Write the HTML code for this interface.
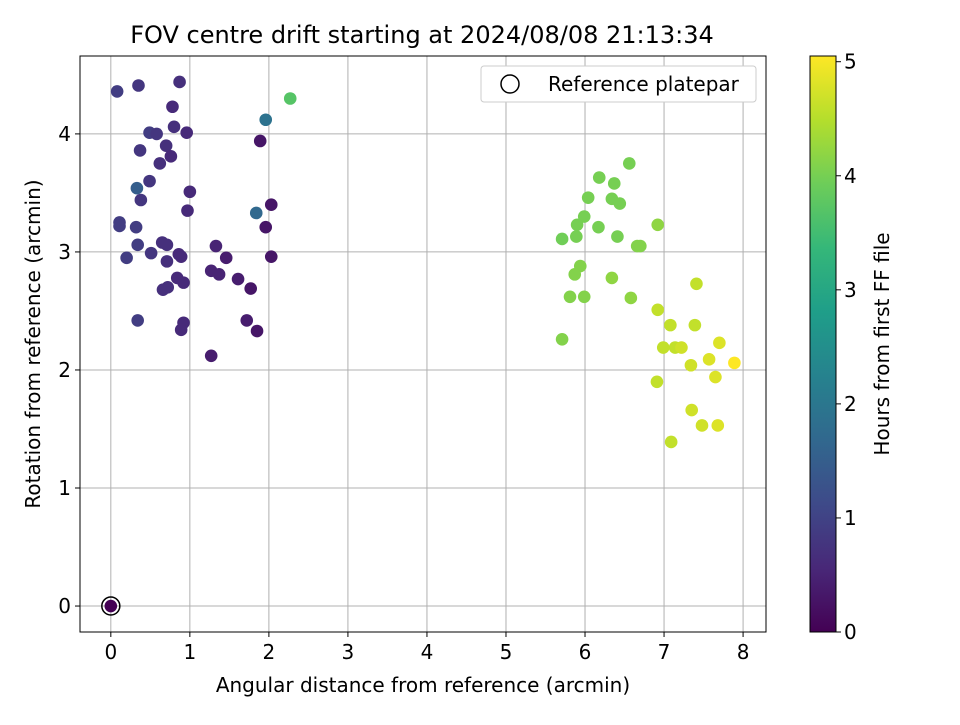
<!DOCTYPE html>
<html><head><meta charset="utf-8"><style>
body{margin:0;background:#fff;}
svg{font-family:"DejaVu Sans","Liberation Sans",sans-serif;}
</style></head><body>
<svg id="c" width="960" height="720" viewBox="0 0 960 720"></svg>
<script>
const xs=[0.08,0.35,0.87,0.78,2.27,1.96,0.80,0.49,0.58,0.96,0.37,0.70,0.62,0.76,1.89,0.33,0.49,1.0,0.38,0.97,1.84,2.03,0.11,0.11,0.32,1.96,0.34,0.65,0.71,1.33,0.51,0.86,0.89,0.2,1.46,2.03,0.71,1.27,1.37,0.84,0.92,1.61,0.72,0.66,1.77,0.34,0.92,1.72,0.89,1.85,1.27,0,
6.56,6.18,6.37,6.04,6.34,6.44,5.99,5.9,6.92,6.17,5.71,5.89,6.41,6.66,6.70,5.94,5.87,6.34,5.81,5.99,6.58,5.71,
7.41,6.92,7.08,7.39,7.70,6.99,7.14,7.22,7.57,7.34,7.89,7.65,6.91,7.35,7.48,7.68,7.09];
const ys=[4.36,4.41,4.44,4.23,4.30,4.12,4.06,4.01,4.0,4.01,3.86,3.9,3.75,3.81,3.94,3.54,3.60,3.51,3.44,3.35,3.33,3.40,3.25,3.22,3.21,3.21,3.06,3.08,3.06,3.05,2.99,2.98,2.96,2.95,2.95,2.96,2.92,2.84,2.81,2.78,2.74,2.77,2.70,2.68,2.69,2.42,2.4,2.42,2.34,2.33,2.12,0,
3.75,3.63,3.58,3.46,3.45,3.41,3.30,3.23,3.23,3.21,3.11,3.13,3.13,3.05,3.05,2.88,2.81,2.78,2.62,2.62,2.61,2.26,
2.73,2.51,2.38,2.38,2.23,2.19,2.19,2.19,2.09,2.04,2.06,1.94,1.9,1.66,1.53,1.53,1.39];
const hours=[0.9,0.8,0.7,0.6,3.7,1.9,0.7,0.9,0.8,0.6,0.8,0.7,0.7,0.6,0.3,1.5,0.8,0.6,0.8,0.6,1.7,0.3,0.9,0.9,0.9,0.3,0.9,0.7,0.7,0.5,0.8,0.6,0.6,0.9,0.4,0.3,0.7,0.5,0.5,0.6,0.6,0.4,0.7,0.7,0.3,0.9,0.6,0.4,0.6,0.3,0.4,0,
4.0,4.0,4.0,4.0,4.0,4.0,4.0,4.0,4.2,4.0,3.95,4.0,4.0,4.1,4.1,4.1,4.1,4.2,4.1,4.1,4.2,4.1,
4.6,4.6,4.6,4.6,4.8,4.6,4.6,4.7,4.8,4.7,5.05,4.8,4.6,4.7,4.7,4.8,4.6];
const xTicks=[0,1,2,3,4,5,6,7,8];
const yTicks=[0,1,2,3,4];
const cTicks=[0,1,2,3,4,5];
const L=80,R=766,T=56,B=632,X0=-0.39,X1=8.29,Y0=-0.22,Y1=4.66,CMAX=5.05;
const sx=v=>L+(v-X0)/(X1-X0)*(R-L), sy=v=>B-(v-Y0)/(Y1-Y0)*(B-T);
const vir=[[68,1,84],[72,40,120],[62,74,137],[49,104,142],[38,130,142],[31,158,137],[53,183,121],[109,205,89],[180,222,44],[253,231,37]];
function cmap(t){t=Math.max(0,Math.min(1,t))*(vir.length-1);const i=Math.min(Math.floor(t),vir.length-2),f=t-i;const a=vir[i],b=vir[i+1];return `rgb(${a.map((v,k)=>Math.round(v+(b[k]-v)*f)).join(',')})`;}
const svg=document.getElementById('c');const NS='http://www.w3.org/2000/svg';
function el(tag,at,p){const e=document.createElementNS(NS,tag);for(const k in at)e.setAttribute(k,at[k]);(p||svg).appendChild(e);return e;}
function tx(x,y,s,at){const e=el('text',Object.assign({x:x,y:y,'font-size':20,fill:'#000'},at||{}));e.textContent=s;return e;}
let e;
e=tx(422,43,'FOV centre drift starting at 2024/08/08 21:13:34',{'text-anchor':'middle','font-size':24});

xTicks.forEach(v=>{const x=sx(v);e=el('line',{x1:x,x2:x,y1:T,y2:B,stroke:'#b0b0b0','stroke-width':1});
el('line',{x1:x,x2:x,y1:B,y2:B+5,stroke:'#000'});e=tx(x,B+27,String(v),{'text-anchor':'middle'});});
yTicks.forEach(v=>{const y=sy(v);e=el('line',{x1:L,x2:R,y1:y,y2:y,stroke:'#b0b0b0','stroke-width':1});
el('line',{x1:L-5,x2:L,y1:y,y2:y,stroke:'#000'});e=tx(L-9,y+7,String(v),{'text-anchor':'end'});});
xs.forEach((v,i)=>{e=el('circle',{cx:sx(v),cy:sy(ys[i]),r:6.3,fill:cmap(hours[i]/CMAX)});});
e=el('circle',{cx:sx(0),cy:sy(0),r:9,fill:'none',stroke:'#000','stroke-width':1.5});
e=el('rect',{x:L,y:T,width:R-L,height:B-T,fill:'none',stroke:'#000','stroke-width':1});
e=tx(423,692,'Angular distance from reference (arcmin)',{'text-anchor':'middle'});
e=tx(0,0,'Rotation from reference (arcmin)',{'text-anchor':'middle',transform:`translate(40,${(T+B)/2}) rotate(-90)`});
const lg=el('g',{});
el('rect',{x:481,y:66,width:275,height:36,rx:3,fill:'#fff',stroke:'#ccc'},lg);
el('circle',{cx:510,cy:84,r:9,fill:'none',stroke:'#000','stroke-width':1.5},lg);
e=document.createElementNS(NS,'text');e.setAttribute('x',548);e.setAttribute('y',91);e.setAttribute('font-size',20);e.textContent='Reference platepar';lg.appendChild(e);

const defs=el('defs',{});const g=el('linearGradient',{id:'vg',x1:0,y1:1,x2:0,y2:0},defs);
vir.forEach((c,i)=>el('stop',{offset:i/(vir.length-1),'stop-color':`rgb(${c})`},g));
e=el('rect',{x:810,y:T,width:26,height:B-T,fill:'url(#vg)',stroke:'#000'});
cTicks.forEach(v=>{const y=B-v/CMAX*(B-T);el('line',{x1:836,x2:841,y1:y,y2:y,stroke:'#000'});e=tx(844,y+7,String(v));});
e=tx(0,0,'Hours from first FF file',{'text-anchor':'middle',transform:`translate(889,${(T+B)/2}) rotate(-90)`});
</script>
</body></html>
